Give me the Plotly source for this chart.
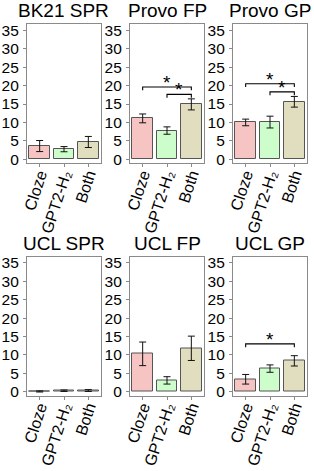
import plotly.graph_objects as go

# ---- data ----
panels = ["BK21 SPR", "Provo FP", "Provo GP", "UCL SPR", "UCL FP", "UCL GP"]
categories = ["Cloze", "GPT2-H₂", "Both"]
colors = ["#F5C4C3", "#CDFDCB", "#E1DDBF"]

bk21_spr = [3.6, 2.75, 4.7]
bk21_spr_err = [1.5, 0.7, 1.5]
provo_fp = [11.1, 7.8, 14.9]
provo_fp_err = [1.2, 1.0, 1.5]
provo_gp = [10.0, 10.1, 15.6]
provo_gp_err = [0.9, 1.6, 1.45]
ucl_spr = [0.1, 0.3, 0.35]
ucl_spr_err = [0.15, 0.2, 0.25]
ucl_fp = [10.3, 3.1, 11.8]
ucl_fp_err = [3.2, 1.0, 3.3]
ucl_gp = [3.4, 6.3, 8.4]
ucl_gp_err = [1.3, 1.0, 1.4]

values = [bk21_spr, provo_fp, provo_gp, ucl_spr, ucl_fp, ucl_gp]
errors = [bk21_spr_err, provo_fp_err, provo_gp_err, ucl_spr_err, ucl_fp_err, ucl_gp_err]

# significance brackets: (from category index, to category index, height)
brackets = [
    [],
    [(1, 3, 19.6), (2, 3, 17.6)],
    [(1, 3, 20.5), (2, 3, 18.3)],
    [],
    [],
    [(1, 3, 13.0)],
]

y_ticks = [0, 5, 10, 15, 20, 25, 30, 35]

# ---- layout ----
W, H = 314, 471
x_doms = [(27 / W, 101 / W), (130 / W, 204 / W), (233 / W, 307 / W)]
y_doms = [(1 - 163 / H, 1 - 24 / H), (1 - 395.5 / H, 1 - 256.5 / H)]

FONT = "Liberation Sans, Arial, Helvetica, sans-serif"
fig = go.Figure()
x_pos = [1, 2, 3]

for i, name in enumerate(panels):
    n = i + 1
    xa = "x" if n == 1 else f"x{n}"
    ya = "y" if n == 1 else f"y{n}"
    fig.add_trace(go.Bar(
        x=x_pos, y=values[i], width=0.86,
        marker=dict(color=colors, line=dict(color="#555555", width=1)),
        error_y=dict(type="data", array=errors[i], color="#111111", thickness=1, width=3.5),
        xaxis=xa, yaxis=ya, showlegend=False,
    ))
    for (a, b, h) in brackets[i]:
        fig.add_trace(go.Scatter(
            x=[a, a, b, b], y=[h - 0.9, h, h, h - 0.9], mode="lines",
            line=dict(color="black", width=1.1), xaxis=xa, yaxis=ya,
            showlegend=False, hoverinfo="skip",
        ))
        fig.add_annotation(x=(a + b) / 2, y=h, text="*", showarrow=False,
                           xref=xa, yref=ya, yanchor="bottom", yshift=-8,
                           font=dict(size=19, color="black", family=FONT))
    row, col = divmod(i, 3)
    axis_common = dict(showline=True, linecolor="#8a8a8a", linewidth=1.2, mirror=True,
                       ticks="outside", ticklen=3, tickcolor="#8a8a8a", showgrid=False,
                       zeroline=False, automargin=False)
    fig.update_layout({
        ("xaxis" if n == 1 else f"xaxis{n}"): dict(
            domain=list(x_doms[col]), anchor=ya, range=[0.48, 3.52],
            tickvals=x_pos, ticktext=categories, tickangle=-72, ticklabelstandoff=-8,
            tickfont=dict(size=16, color="black", family=FONT), **axis_common),
        ("yaxis" if n == 1 else f"yaxis{n}"): dict(
            domain=list(y_doms[row]), anchor=xa, range=[-1, 36.7],
            tickvals=y_ticks, ticklabelstandoff=1,
            tickfont=dict(size=15.5, color="black", family=FONT), **axis_common),
    })
    fig.add_annotation(text=name, xref="paper", yref="paper",
                       x=(x_doms[col][0] + x_doms[col][1]) / 2, y=y_doms[row][1],
                       xanchor="center", yanchor="bottom", yshift=1, showarrow=False,
                       font=dict(size=19, color="black", family=FONT))

fig.update_layout(width=W, height=H, margin=dict(l=0, r=0, t=0, b=0),
                  plot_bgcolor="white", paper_bgcolor="white", bargap=0)
fig.write_html("out.html", config={"displayModeBar": False},
               post_script="document.body.style.margin='0';document.body.style.overflow='hidden';")
